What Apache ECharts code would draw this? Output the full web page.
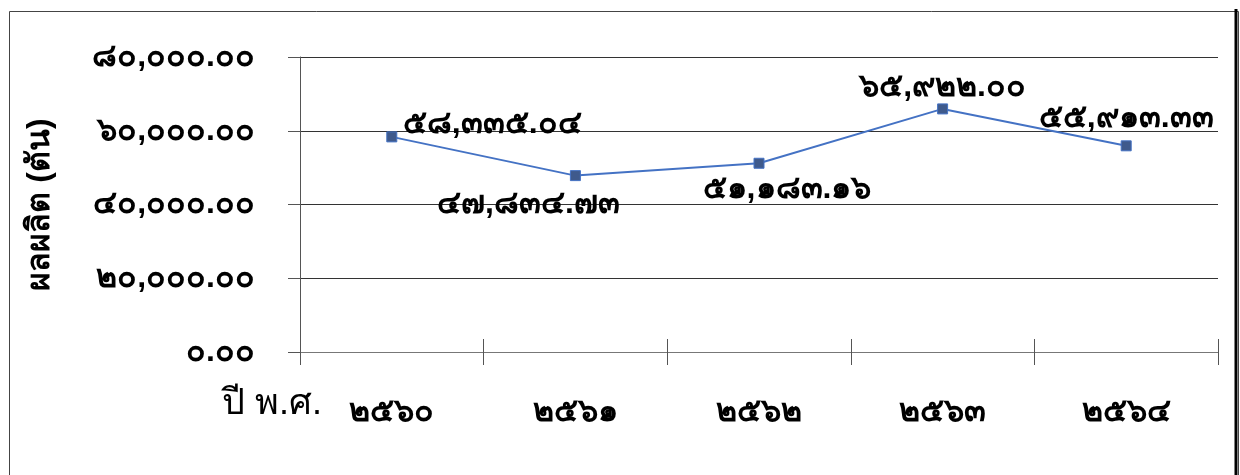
<!DOCTYPE html>
<html><head><meta charset="utf-8">
<script src="https://cdn.jsdelivr.net/npm/echarts@6/dist/echarts.min.js"></script>
<style>html,body{margin:0;padding:0;background:#fff}#c{width:1240px;height:475px}</style>
</head><body><div id="c"></div>
<script>
const categories = ['2560', '2561', '2562', '2563', '2564'];
const production = [58335.04, 47834.73, 51183.16, 65922.00, 55913.33];
const yTicks = [0, 20000, 40000, 60000, 80000];
const yAxisTitle = 'ผลผลิต (ตัน)';
const xAxisTitle = 'ปี พ.ศ.';

const thaiDigits = s => String(s).replace(/[0-9]/g, d => String.fromCharCode(0x0E50 + Number(d)));
const fmt = v => thaiDigits(v.toLocaleString('en-US', {minimumFractionDigits: 2, maximumFractionDigits: 2}));

const labelOffsets = [[11, -13, 'left'], [-47, 29, 'center'], [28, 26, 'center'], [0, -22, 'center'], [0, -28, 'center']];
const FONT = 'sans-serif';

const chart = echarts.init(document.getElementById('c'));
chart.setOption({
  animation: false,
  backgroundColor: '#fff',
  textStyle: {fontFamily: FONT},
  grid: {left: 300, right: 22, top: 57, bottom: 123},
  graphic: [
    {type: 'rect', left: 7, top: 9, shape: {width: 1229, height: 480}, style: {fill: 'none', stroke: '#444', lineWidth: 1}},
    {type: 'line', shape: {x1: 1236, y1: 9, x2: 1236, y2: 475}, style: {stroke: '#000', lineWidth: 3}},
    {type: 'text', left: 222, top: 386, style: {text: xAxisTitle, fontSize: 36, fontWeight: 'normal', fill: '#000', fontFamily: FONT}}
  ],
  xAxis: [{
    type: 'category', data: categories, boundaryGap: true,
    axisLine: {show: true, lineStyle: {color: '#777', width: 1}},
    axisTick: {show: true, inside: false, length: 13, lineStyle: {color: '#555'}},
    axisLabel: {margin: 44, fontSize: 32, fontWeight: 'bold', color: '#000', formatter: v => thaiDigits(v)},
    splitLine: {show: false}
  }, {
    type: 'category', data: categories, boundaryGap: true, position: 'bottom',
    axisLine: {show: false}, axisLabel: {show: false},
    axisTick: {show: true, inside: true, length: 13, lineStyle: {color: '#555'}}
  }],
  yAxis: {
    type: 'value', min: 0, max: 80000, interval: 20000,
    name: yAxisTitle, nameLocation: 'middle', nameGap: 244, nameRotate: 90,
    nameTextStyle: {fontSize: 32, fontWeight: 'bold', color: '#000'},
    axisLine: {show: true, lineStyle: {color: '#555', width: 1}},
    axisTick: {show: true, length: 12, lineStyle: {color: '#555'}},
    axisLabel: {margin: 45, fontSize: 32, fontWeight: 'bold', color: '#000', formatter: v => fmt(v)},
    splitLine: {show: true, lineStyle: {color: '#333', width: 1}}
  },
  series: [{
    type: 'line',
    data: production.map((v, i) => ({
      value: v,
      label: {offset: [labelOffsets[i][0], labelOffsets[i][1]], align: labelOffsets[i][2]}
    })),
    lineStyle: {color: '#4472c4', width: 2},
    symbol: 'rect', symbolSize: 10,
    itemStyle: {color: '#3f5a8c', borderColor: '#4472c4', borderWidth: 1},
    label: {show: true, position: 'inside', fontSize: 32, fontWeight: 'bold', color: '#000',
      verticalAlign: 'middle', formatter: p => fmt(p.value)}
  }]
});
</script></body></html>
